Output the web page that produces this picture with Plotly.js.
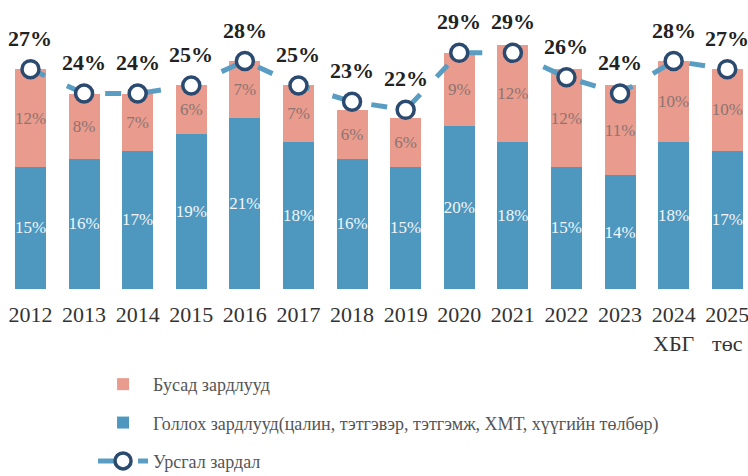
<!DOCTYPE html>
<html>
<head>
<meta charset="utf-8">
<script src="https://cdn.plot.ly/plotly-3.0.1.min.js"></script>
<style>html,body{margin:0;padding:0;background:#fff;}#chart{width:748px;height:476px;}</style>
</head>
<body>
<div id="chart"></div>
<script>
const categories = ["2012","2013","2014","2015","2016","2017","2018","2019","2020","2021","2022","2023","2024<br>ХБГ","2025<br>төс"];
const mainExpenses = [15,16,17,19,21,18,16,15,20,18,15,14,18,17];
const otherExpenses = [12,8,7,6,7,7,6,6,9,12,12,11,10,10];
const currentExpenses = [27,24,24,25,28,25,23,22,29,29,26,24,28,27];
const seriesNames = ["Бусад зардлууд", "Голлох зардлууд(цалин, тэтгэвэр, тэтгэмж, ХМТ, хүүгийн төлбөр)", "Урсгал зардал"];

const serif = "Liberation Serif, Times New Roman, serif";

const traces = [
  {
    type: "bar", x: categories, y: mainExpenses, name: seriesNames[1],
    marker: {color: "#4E98BF"},
    texttemplate: "%{y}%", textposition: "inside", insidetextanchor: "middle", textangle: 0,
    textfont: {family: serif, size: 17, color: "#f2f6fa"}, constraintext: "none",
    legendgroup: "b", legendrank: 2, hoverinfo: "skip"
  },
  {
    type: "bar", x: categories, y: otherExpenses, name: seriesNames[0],
    marker: {color: "#E99B8D"},
    texttemplate: "%{y}%", textposition: "inside", insidetextanchor: "middle", textangle: 0,
    textfont: {family: serif, size: 17, color: "#8d7471"}, constraintext: "none",
    legendgroup: "a", legendrank: 1, hoverinfo: "skip"
  },
  {
    type: "scatter", mode: "lines+markers", x: categories, y: currentExpenses, name: seriesNames[2],
    line: {color: "#5A9DC2", width: 5, dash: "16px,24px"},
    marker: {size: 17, color: "#ffffff", line: {color: "#2B4A6F", width: 3.5}},
    legendgroup: "c", legendrank: 3, hoverinfo: "skip", cliponaxis: false
  }
];

const annotations = categories.map((c, i) => ({
  x: i, y: currentExpenses[i], xref: "x", yref: "y",
  text: currentExpenses[i] + "%", showarrow: false, yshift: 31,
  font: {family: serif, size: 22, color: "#222", weight: "bold"}
}));

const layout = {
  width: 748, height: 476,
  margin: {l: 4, r: 2, t: 4, b: 187, autoexpand: false},
  paper_bgcolor: "#ffffff", plot_bgcolor: "#ffffff",
  barmode: "stack", bargap: 0.42,
  showlegend: true,
  legend: {
    x: 0.12, y: -0.27, xanchor: "left", yanchor: "top",
    traceorder: "grouped", tracegroupgap: 12, itemwidth: 50,
    font: {family: serif, size: 18, color: "#555"}
  },
  xaxis: {
    type: "category", range: [-0.494, 13.35],
    showgrid: false, zeroline: false, showline: false, ticks: "",
    ticklabelstandoff: 10,
    tickfont: {family: serif, size: 22, color: "#333"}
  },
  yaxis: {
    range: [0, 35], showgrid: false, zeroline: false, showline: false,
    showticklabels: false, ticks: ""
  },
  annotations: annotations
};

Plotly.newPlot("chart", traces, layout, {displayModeBar: false, staticPlot: true});
</script>
</body>
</html>
